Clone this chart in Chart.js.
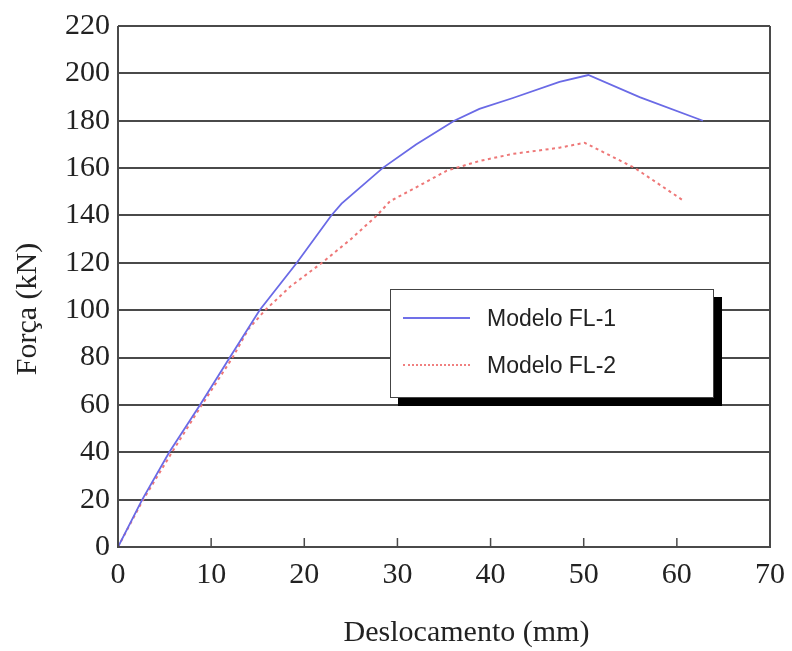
<!DOCTYPE html>
<html>

<head>
    <meta charset="utf-8">
    <title>Força x Deslocamento</title>
    <script src="https://cdn.jsdelivr.net/npm/chart.js@4.4.1/dist/chart.umd.min.js"></script>
    <style>
        body { margin: 0; background: #fff; }
        #wrap { position: relative; width: 792px; height: 651px; }
        #legend {
            position: absolute; left: 390px; top: 289px; width: 322px; height: 107px;
            background: #fff; border: 1px solid #444; box-shadow: 8px 8px 0 #000;
            font-family: "Liberation Sans", Arial, sans-serif; font-size: 23px; color: #222;
        }
        .row { position: absolute; left: 12px; height: 30px; display: flex; align-items: center; }
        .sample { width: 67px; height: 0; margin-right: 17px; }
    </style>
</head>

<body>
    <div id="wrap">
        <canvas id="myChart" width="792" height="651"></canvas>
        <div id="legend">
            <div class="row" style="top:13px"><span class="sample" style="border-top:2px solid #7070e8"></span>Modelo FL-1</div>
            <div class="row" style="top:60px"><span class="sample" style="border-top:2px dotted #f08080"></span>Modelo FL-2</div>
        </div>
    </div>
    <script>
        // valores
        const xTicks = [0, 10, 20, 30, 40, 50, 60, 70];
        const yTicks = [0, 20, 40, 60, 80, 100, 120, 140, 160, 180, 200, 220];

        const fl1Disp = [0, 2.6, 5.5, 8.8, 12, 15.2, 19.2, 22.9, 24, 28.4, 32, 36.1, 38.8, 42.4, 47.4, 50.5, 56, 62.8];
        const fl1Force = [0, 20, 40, 60, 80, 100, 120, 140, 145, 160, 170, 180, 185, 189.6, 196.4, 199.3, 190, 180];

        const fl2Disp = [0, 2.7, 5.8, 9, 12.3, 14, 15.8, 18.5, 21.9, 25, 27.8, 29.2, 31.6, 35.3, 38.8, 42.4, 47.4, 50.1, 55.5, 60.8];
        const fl2Force = [0, 20, 40, 60, 80, 92, 100, 110, 120, 130, 140, 146, 151, 158.9, 163, 166, 168.6, 170.7, 160, 146];

        const toPoints = (xs, ys) => xs.map((x, i) => ({x: x, y: ys[i]}));

        const serif = '"Liberation Serif", "Times New Roman", serif';
        const gridColor = '#4a4a4a';

        // moldura e ticks internos do eixo x
        const frame = {
            id: 'frame',
            afterDraw(chart) {
                const ctx = chart.ctx;
                const a = chart.chartArea;
                const xs = chart.scales.x;
                ctx.save();
                ctx.strokeStyle = gridColor;
                ctx.lineWidth = 2;
                ctx.beginPath();
                ctx.moveTo(a.left, a.top);
                ctx.lineTo(a.left, a.bottom);
                ctx.lineTo(a.right, a.bottom);
                ctx.lineTo(a.right, a.top);
                ctx.stroke();
                ctx.lineWidth = 1.5;
                xTicks.forEach(v => {
                    const px = xs.getPixelForValue(v);
                    ctx.beginPath();
                    ctx.moveTo(px, a.bottom);
                    ctx.lineTo(px, a.bottom - 9);
                    ctx.stroke();
                });
                ctx.restore();
            }
        };

        const ctx = document.getElementById('myChart').getContext('2d');
        const myChart = new Chart(ctx, {
            type: 'line',
            data: {
                datasets: [{
                    label: 'Modelo FL-1',
                    data: toPoints(fl1Disp, fl1Force),
                    borderColor: '#6a6ae6',
                    borderWidth: 1.8,
                    pointRadius: 0,
                    tension: 0
                }, {
                    label: 'Modelo FL-2',
                    data: toPoints(fl2Disp, fl2Force),
                    borderColor: '#ee7777',
                    borderWidth: 2,
                    borderDash: [3, 3.5],
                    pointRadius: 0,
                    tension: 0
                }]
            },
            options: {
                responsive: false,
                animation: false,
                layout: { padding: { top: 25, right: 22, left: 0, bottom: 0 } },
                plugins: { legend: { display: false }, tooltip: { enabled: false } },
                scales: {
                    x: {
                        type: 'linear',
                        min: 0, max: 70,
                        afterBuildTicks: s => { s.ticks = xTicks.map(v => ({value: v})); },
                        afterFit: s => { s.height = 104; },
                        grid: { display: false },
                        border: { display: false },
                        ticks: { color: '#222', font: { family: serif, size: 30 }, padding: 2, maxRotation: 0 },
                        title: {
                            display: true,
                            text: '      Deslocamento (mm)',
                            color: '#222',
                            font: { family: serif, size: 30 },
                            padding: { top: 0, bottom: 0 }
                        }
                    },
                    y: {
                        min: 0, max: 220,
                        afterBuildTicks: s => { s.ticks = yTicks.map(v => ({value: v})); },
                        afterFit: s => { s.width = 118; },
                        grid: { color: gridColor, lineWidth: 2, drawTicks: false },
                        border: { display: false },
                        ticks: { color: '#222', font: { family: serif, size: 30 }, padding: 8 },
                        title: {
                            display: true,
                            text: 'Força (kN)      ',
                            color: '#222',
                            font: { family: serif, size: 30 },
                            padding: { top: 10, bottom: 0 }
                        }
                    }
                }
            },
            plugins: [frame]
        });
    </script>
</body>

</html>
